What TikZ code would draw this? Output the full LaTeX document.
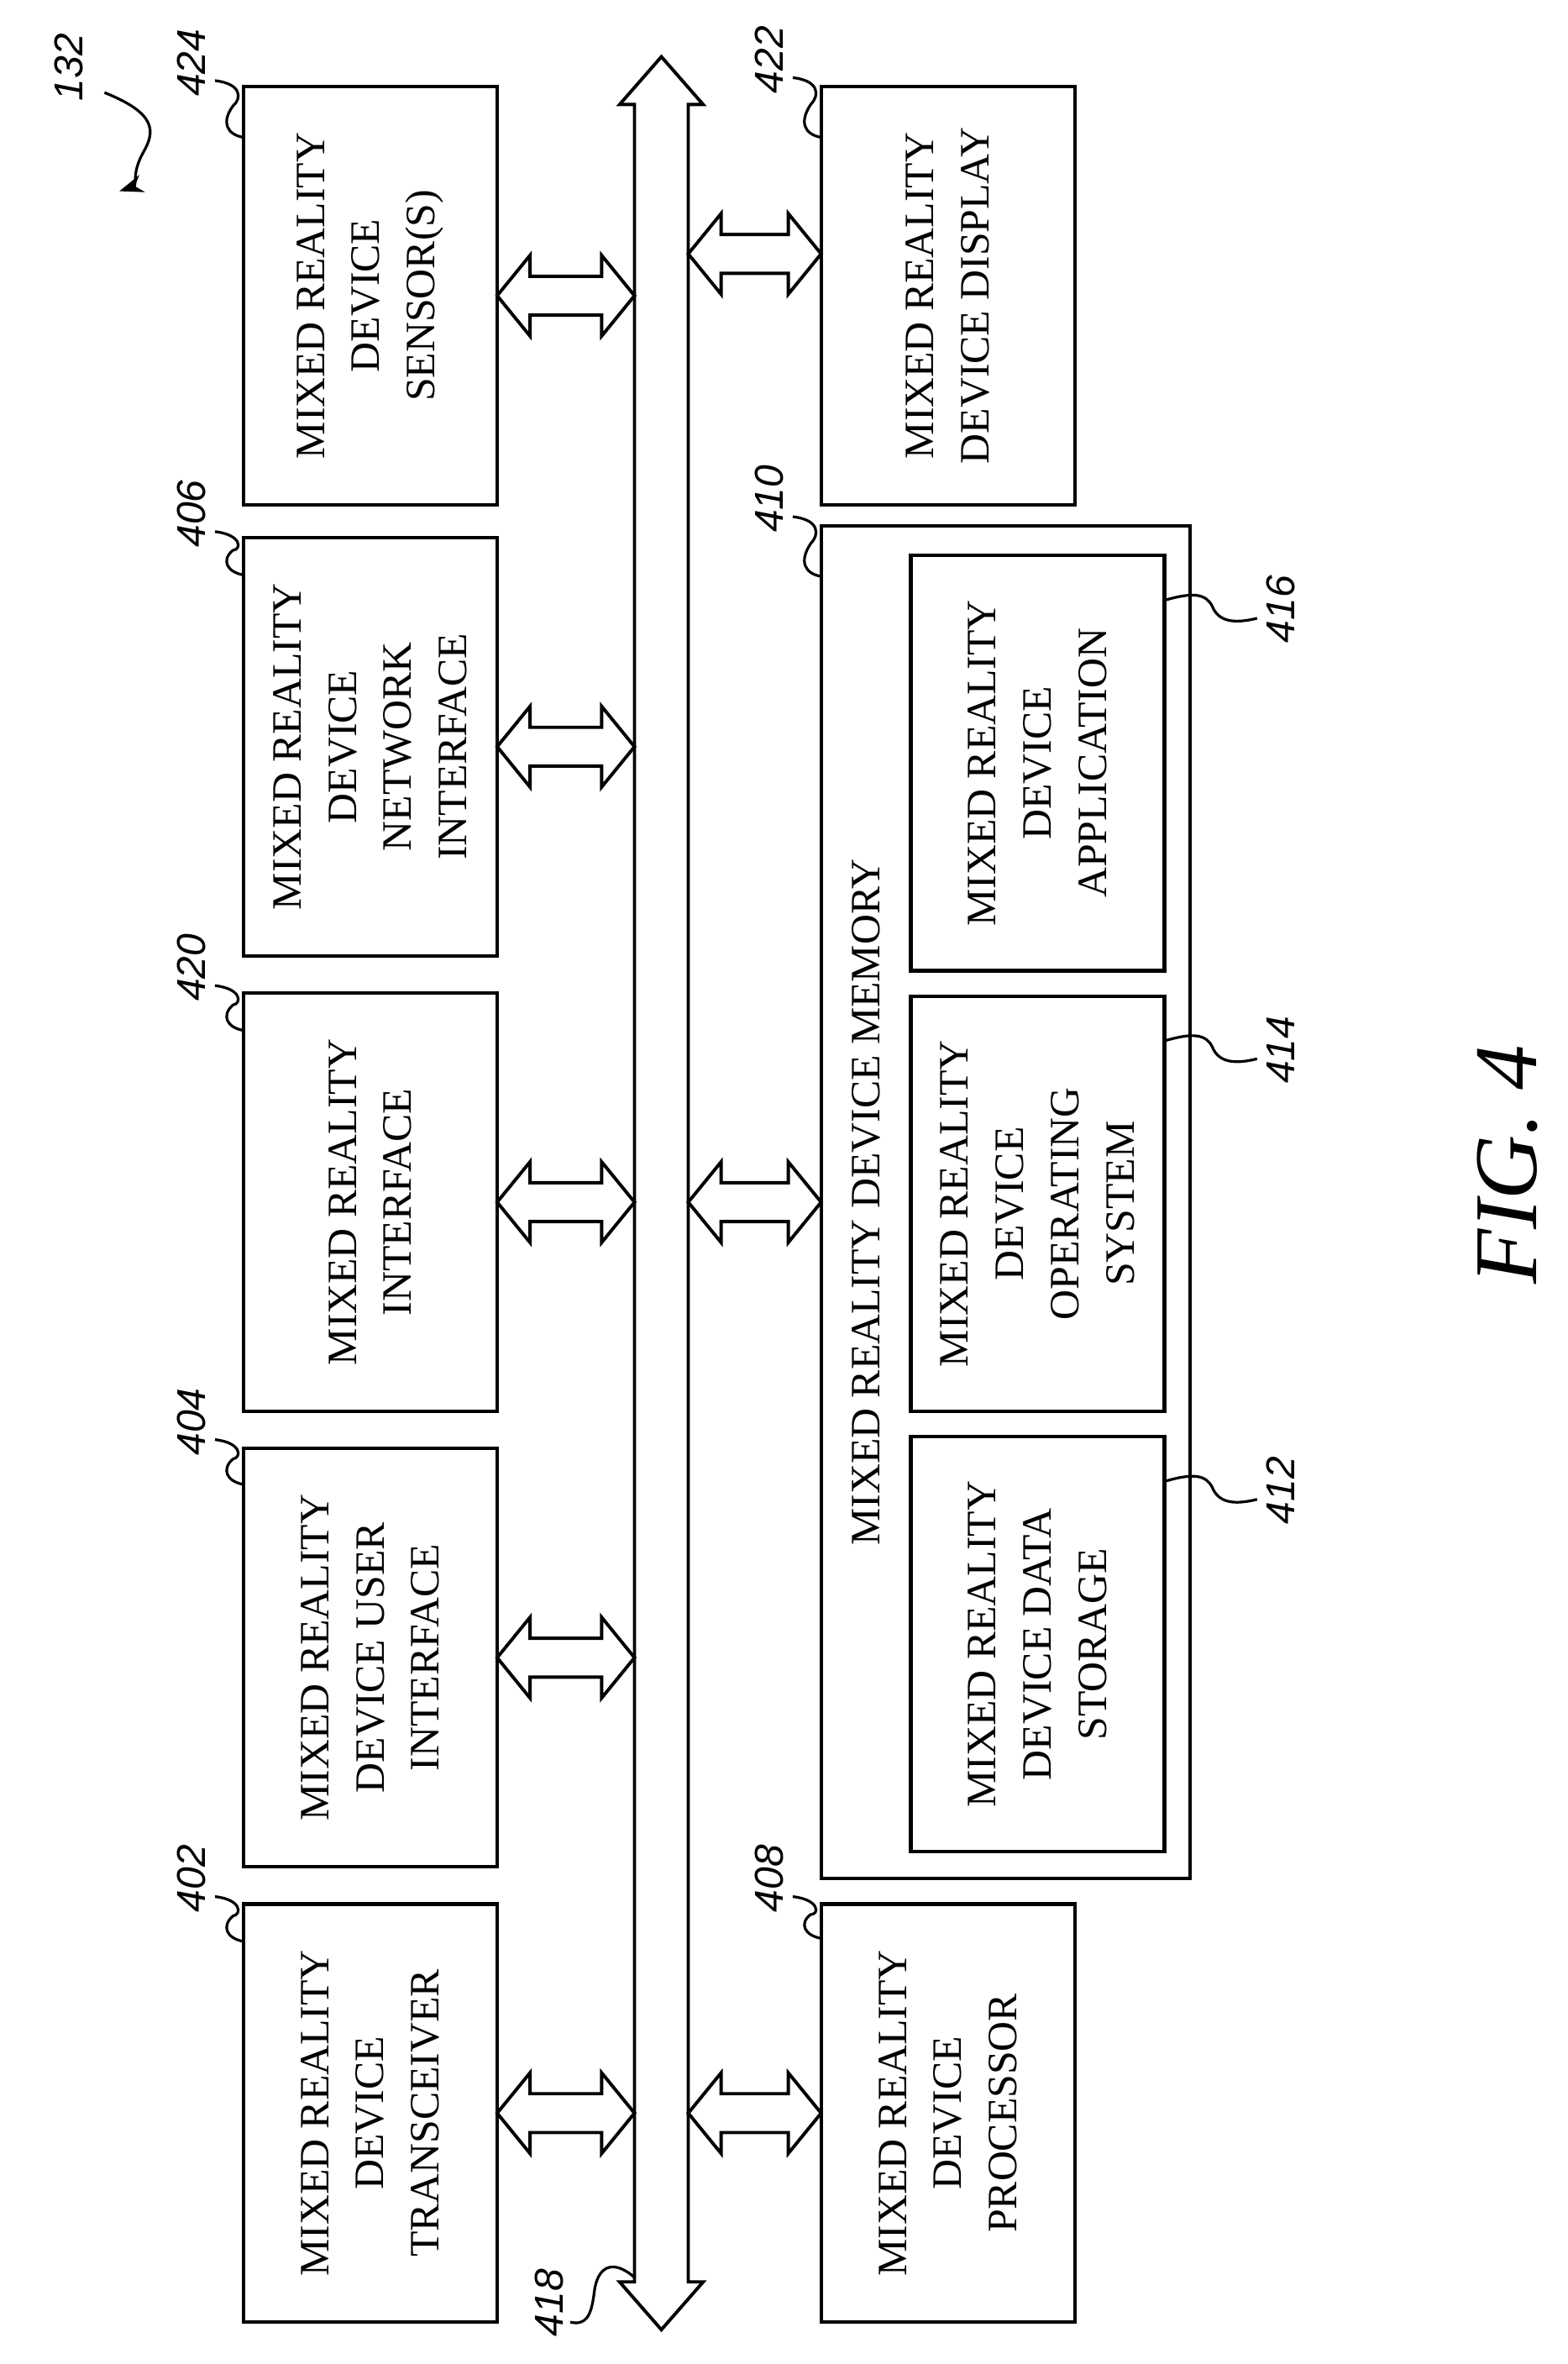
\documentclass[tikz,border=0pt]{standalone}
\usepackage{fontspec}
\setmainfont{Liberation Serif}
\newfontfamily\labfont{Liberation Sans}
\usetikzlibrary{arrows.meta}
\newcommand\harr[3]{\draw[conn] (#1,#3)--(#1+22,#3-27)--(#1+22,#3-13)--(#2-22,#3-13)--(#2-22,#3-27)--(#2,#3)--(#2-22,#3+27)--(#2-22,#3+13)--(#1+22,#3+13)--(#1+22,#3+27)--cycle;}
\begin{document}
\begin{tikzpicture}[x=1pt,y=-1pt,line width=2.4pt,
 box/.style={align=center,font=\fontsize{28}{37}\selectfont,inner sep=0},
 conn/.style={line width=2.2pt,line join=miter},
 lab/.style={font=\labfont\itshape\fontsize{27}{27}\selectfont,rotate=90},
 lead/.style={line width=1.8pt}]
\useasboundingbox (0,0) rectangle (1050,1583);
\draw (163,58) rectangle (333,338); \node[box,rotate=90] (b424) at (248,198) {MIXED REALITY\\DEVICE\\SENSOR(S)};
\draw (163,360) rectangle (333,640); \node[box,rotate=90] (b406) at (248,500) {MIXED REALITY\\DEVICE\\NETWORK\\INTERFACE};
\draw (163,665) rectangle (333,945); \node[box,rotate=90] (b420) at (248,805) {MIXED REALITY\\INTERFACE};
\draw (163,970) rectangle (333,1250); \node[box,rotate=90] (b404) at (248,1110) {MIXED REALITY\\DEVICE USER\\INTERFACE};
\draw (163,1275) rectangle (333,1555); \node[box,rotate=90] (b402) at (248,1415) {MIXED REALITY\\DEVICE\\TRANSCEIVER};
\draw (550,58) rectangle (720,338); \node[box,rotate=90] (b422) at (635,198) {MIXED REALITY\\DEVICE DISPLAY};
\draw (550,352) rectangle (797,1258); \node[box,rotate=90] (b410) at (580,805) {MIXED REALITY DEVICE MEMORY};
\draw (610,372) rectangle (780,650); \node[box,rotate=90] (b416) at (695,511) {MIXED REALITY\\DEVICE\\APPLICATION};
\draw (610,667) rectangle (780,945); \node[box,rotate=90] (b414) at (695,806) {MIXED REALITY\\DEVICE\\OPERATING\\SYSTEM};
\draw (610,962) rectangle (780,1240); \node[box,rotate=90] (b412) at (695,1101) {MIXED REALITY\\DEVICE DATA\\STORAGE};
\draw (550,1275) rectangle (720,1555); \node[box,rotate=90] (b408) at (635,1415) {MIXED REALITY\\DEVICE\\PROCESSOR};
% bus
\draw[conn] (443,38)--(471,70)--(461,70)--(461,1528)--(471,1528)--(443,1560)--(415,1528)--(425,1528)--(425,70)--(415,70)--cycle;
% connectors
\foreach \y in {198,500,805,1110,1415}{\harr{333}{425}{\y}}
\foreach \y in {170,805,1415}{\harr{461}{550}{\y}}
% labels
\node[lab] (l132) at (46,45) {132};
\draw[lead,-{Stealth[length=16pt,width=12pt]}] (70,62) .. controls (105,76) and (104,88) .. (96,102) .. controls (88,116) and (92,124) .. (80,128);
\foreach \n/\x/\y/\ty in {424/128/42/92,406/128/344/385,420/128/648/690,404/128/952/994,402/128/1258/1300}{
 \node[lab] (l\n) at (\x,\y) {\n};
 \draw[lead] (\x+16,\y+12) .. controls (\x+34,\y+14) and (\x+34,\y+24) .. (\x+28,{(\y+\ty)/2+4}) .. controls (\x+20,\ty-10) and (\x+24,\ty-2) .. (163,\ty);}
\foreach \n/\x/\y/\ty in {422/515/40/92,410/515/334/386,408/515/1258/1298}{
 \node[lab] (l\n) at (\x,\y) {\n};
 \draw[lead] (\x+16,\y+12) .. controls (\x+34,\y+14) and (\x+34,\y+24) .. (\x+28,{(\y+\ty)/2+4}) .. controls (\x+20,\ty-10) and (\x+24,\ty-2) .. (550,\ty);}
\foreach \n/\y in {416/402,414/697,412/992}{
 \node[lab] (l\n) at (858,\y+6) {\n};
 \draw[lead] (780,\y) .. controls (800,\y-6) and (808,\y-4) .. (812,\y+4) .. controls (816,\y+14) and (826,\y+16) .. (842,\y+12);}
\node[lab] (l418) at (368,1542) {418};
\draw[lead] (425,1525) .. controls (410,1512) and (400,1518) .. (398,1535) .. controls (396,1552) and (392,1557) .. (382,1555);
\node[rotate=90,font=\itshape\fontsize{60}{60}\selectfont] (fig) at (1010,780) {FIG. 4};
\end{tikzpicture}
\end{document}
